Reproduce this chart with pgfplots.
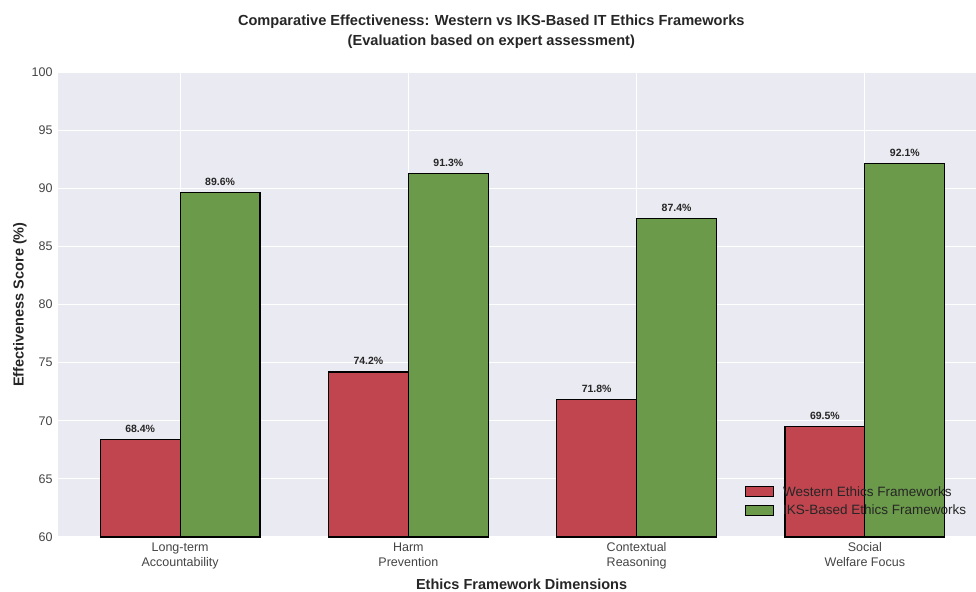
\documentclass[border=0pt]{standalone}
\usepackage{fontspec}
\setmainfont{Liberation Sans}
\usepackage{pgfplots}
\pgfplotsset{compat=1.18}

\definecolor{bgpanel}{HTML}{EAEAF2}
\definecolor{westred}{HTML}{C0454F}
\definecolor{iksgreen}{HTML}{6A9A4A}
\definecolor{ticktxt}{HTML}{444444}
\definecolor{lbltxt}{HTML}{262626}

\begin{document}
\begin{tikzpicture}
\begin{axis}[
  name=ax,
  scale only axis,
  width=918pt, height=465pt,
  xmin=-0.535, xmax=3.487,
  ymin=60, ymax=100,
  ytick={60,65,...,100},
  xtick={0,1,2,3},
  xticklabels={{Long-term\\Accountability},{Harm\\Prevention},{Contextual\\Reasoning},{Social\\Welfare Focus}},
  x tick label style={align=center, font=\fontsize{12.5}{15}\selectfont, text=ticktxt},
  y tick label style={font=\fontsize{12.5}{15}\selectfont, text=ticktxt},
  /pgf/number format/assume math mode=true,
  major tick length=0pt,
  xticklabel shift=2pt,
  yticklabel shift=2pt,
  axis background/.style={fill=bgpanel},
  axis line style={draw=none},
  grid=major,
  major grid style={white, line width=1.1pt},
  xlabel={Ethics Framework Dimensions},
  ylabel={Effectiveness Score (\%)},
  xlabel style={font=\fontsize{14.5}{17}\selectfont\bfseries, text=lbltxt, at={(ticklabel cs:0.505)}, yshift=-3pt},
  ylabel style={font=\fontsize{14.5}{17}\selectfont\bfseries, text=lbltxt, yshift=-2pt},
  title={Comparative Effectiveness: Western vs IKS-Based IT Ethics Frameworks\\(Evaluation based on expert assessment)},
  title style={font=\fontsize{14.6}{20}\selectfont\bfseries, text=lbltxt, align=center, at={(axis description cs:0.472,1)}, yshift=14pt},
  ybar,
  bar width=0.35,
  clip=true,
  nodes near coords={\pgfmathprintnumber[fixed,precision=1,fixed zerofill]{\pgfplotspointmeta}\%},
  every node near coord/.append style={font=\fontsize{10.5}{12}\selectfont\bfseries, text=lbltxt, yshift=3pt},
  legend cell align=left,
  legend style={draw=none, fill=none, at={(axis description cs:0.745,0.118)}, anchor=north west,
    font=\fontsize{13.5}{16}\selectfont, text=lbltxt, row sep=3pt,
    /tikz/every odd column/.append style={column sep=7pt}},
  legend image code/.code={\draw[#1, line width=1pt] (0pt,-5pt) rectangle (28pt,5pt);},
]
\addplot[fill=westred, draw=black, line width=1.2pt, bar shift=-0.175]
  coordinates {(0,68.4) (1,74.2) (2,71.8) (3,69.5)};
\addplot[fill=iksgreen, draw=black, line width=1.2pt, bar shift=0.175]
  coordinates {(0,89.6) (1,91.3) (2,87.4) (3,92.1)};
\legend{Western Ethics Frameworks, IKS-Based Ethics Frameworks}
\end{axis}
\pgfresetboundingbox
\path[use as bounding box] ([shift={(-58pt,-54pt)}]ax.south west) rectangle ([shift={(0pt,72pt)}]ax.north east);
\end{tikzpicture}
\end{document}
